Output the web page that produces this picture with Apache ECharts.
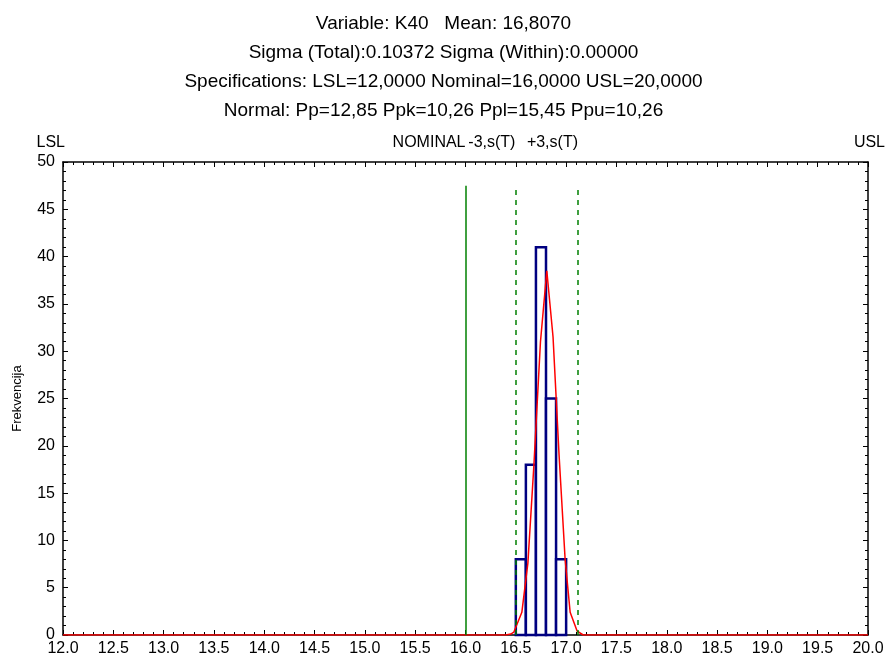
<!DOCTYPE html>
<html><head><meta charset="utf-8">
<script src="https://cdn.jsdelivr.net/npm/echarts@6/dist/echarts.min.js"></script>
<style>html,body{margin:0;padding:0;background:#fff}#c{width:887px;height:661px}</style>
</head><body><div id="c"></div>
<script>
const titleLines = [
  'Variable: K40   Mean: 16,8070',
  'Sigma (Total):0.10372 Sigma (Within):0.00000',
  'Specifications: LSL=12,0000 Nominal=16,0000 USL=20,0000',
  'Normal: Pp=12,85 Ppk=10,26 Ppl=15,45 Ppu=10,26'
];
const yAxisName = 'Frekvencija';
const binStarts = [16.5, 16.6, 16.7, 16.8, 16.9];
const binEnds   = [16.6, 16.7, 16.8, 16.9, 17.0];
const binCounts = [8, 18, 41, 25, 8];
const curveX = [12.0, 16.40, 16.45, 16.48, 16.56, 16.62, 16.68, 16.745, 16.808, 16.87, 16.93, 16.99, 17.04, 17.11, 17.17, 20.0];
const curveY = [0, 0, 0.1, 0.3, 2.4, 7.6, 18, 31, 38.5, 31.5, 19, 8, 2.4, 0.4, 0, 0];
const specNames  = ['LSL', 'NOMINAL', '-3,s(T)', '+3,s(T)', 'USL'];
const specValues = [12, 16, 16.496, 17.118, 20];
const specLineTop = 47.5;
const specLabelLevel = 52;
const xMin = 12, xMax = 20, xStep = 0.5;
const yMin = 0, yMax = 50, yStep = 5;

const chart = echarts.init(document.getElementById('c'), null, {renderer: 'canvas'});
const FONT = '"Liberation Sans", Arial, sans-serif';

function mkX(pos, showLabel) {
  return {
    type: 'value', position: pos, min: xMin, max: xMax, interval: xStep,
    axisLine: {show: true, onZero: false, lineStyle: {color: '#000', width: 1.5}},
    axisTick: {show: true, inside: true, length: 5, lineStyle: {color: '#000', width: 1}},
    minorTick: {show: true, splitNumber: 5, length: 3, lineStyle: {color: '#000', width: 1}},
    splitLine: {show: false}, minorSplitLine: {show: false},
    axisLabel: {show: showLabel, color: '#000', fontSize: 16, fontFamily: FONT, margin: 6,
      formatter: v => v.toFixed(1)}
  };
}
function mkY(pos, showLabel) {
  return {
    type: 'value', position: pos, min: yMin, max: yMax, interval: yStep,
    axisLine: {show: true, onZero: false, lineStyle: {color: '#000', width: 1.5}},
    axisTick: {show: true, inside: true, length: 5, lineStyle: {color: '#000', width: 1}},
    minorTick: {show: true, splitNumber: 5, length: 3, lineStyle: {color: '#000', width: 1}},
    splitLine: {show: false}, minorSplitLine: {show: false},
    axisLabel: {show: showLabel, color: '#000', fontSize: 16, fontFamily: FONT, margin: 8},
    name: showLabel ? yAxisName : '', nameLocation: 'middle', nameGap: 39,
    nameTextStyle: {color: '#000', fontSize: 13, fontFamily: FONT}
  };
}

const barData = binStarts.map((s, i) => [s, binEnds[i], binCounts[i]]);
const curveData = curveX.map((x, i) => [x, curveY[i]]);
const specLines = specNames.map((n, i) => ({n, v: specValues[i]}))
  .filter(d => d.n !== 'LSL' && d.n !== 'USL')
  .map(d => [
    {coord: [d.v, 0], lineStyle: {type: d.n === 'NOMINAL' ? 'solid' : [5, 5], width: 1.5, color: '#008000'}},
    {coord: [d.v, specLineTop]}
  ]);
const specLabelData = specNames.map((n, i) => [specValues[i], specLabelLevel, i]);

chart.setOption({
  animation: false,
  backgroundColor: '#fff',
  title: {
    text: titleLines.join('\n'), left: 'center', top: 4,
    textStyle: {fontSize: 19, fontWeight: 'normal', color: '#000', fontFamily: FONT, lineHeight: 29}
  },
  grid: {left: 63, right: 19, top: 162, bottom: 26, containLabel: false},
  xAxis: [mkX('bottom', true), mkX('top', false)],
  yAxis: [mkY('left', true), mkY('right', false)],
  series: [
    {
      type: 'custom', xAxisIndex: 0, yAxisIndex: 0, z: 3,
      data: barData,
      encode: {x: [0, 1], y: 2},
      renderItem: (params, api) => {
        const p0 = api.coord([api.value(0), 0]);
        const p1 = api.coord([api.value(1), api.value(2)]);
        return {
          type: 'rect',
          shape: {x: p0[0], y: p1[1], width: p1[0] - p0[0], height: p0[1] - p1[1]},
          style: {fill: '#fff', stroke: '#000080', lineWidth: 2.5}
        };
      }
    },
    {
      type: 'line', xAxisIndex: 0, yAxisIndex: 0, z: 4,
      data: curveData, showSymbol: false, symbol: 'none',
      lineStyle: {color: '#ff0000', width: 1.5},
      markLine: {silent: true, symbol: 'none', label: {show: false}, data: specLines}
    },
    {
      type: 'custom', xAxisIndex: 0, yAxisIndex: 0, clip: false, z: 5, silent: true,
      data: specLabelData,
      encode: {x: 0, y: 1},
      renderItem: (params, api) => {
        const p = api.coord([api.value(0), api.value(1)]);
        const name = specNames[api.value(2)];
        const shift = name === 'USL' ? 17 : (name === 'LSL' ? 2 : 0);
        return {
          type: 'text',
          x: p[0] + shift,
          y: p[1],
          style: {
            text: name, fill: '#000', fontSize: 16, fontFamily: FONT,
            align: 'right', verticalAlign: 'middle'
          }
        };
      }
    }
  ]
});
</script>
</body></html>
